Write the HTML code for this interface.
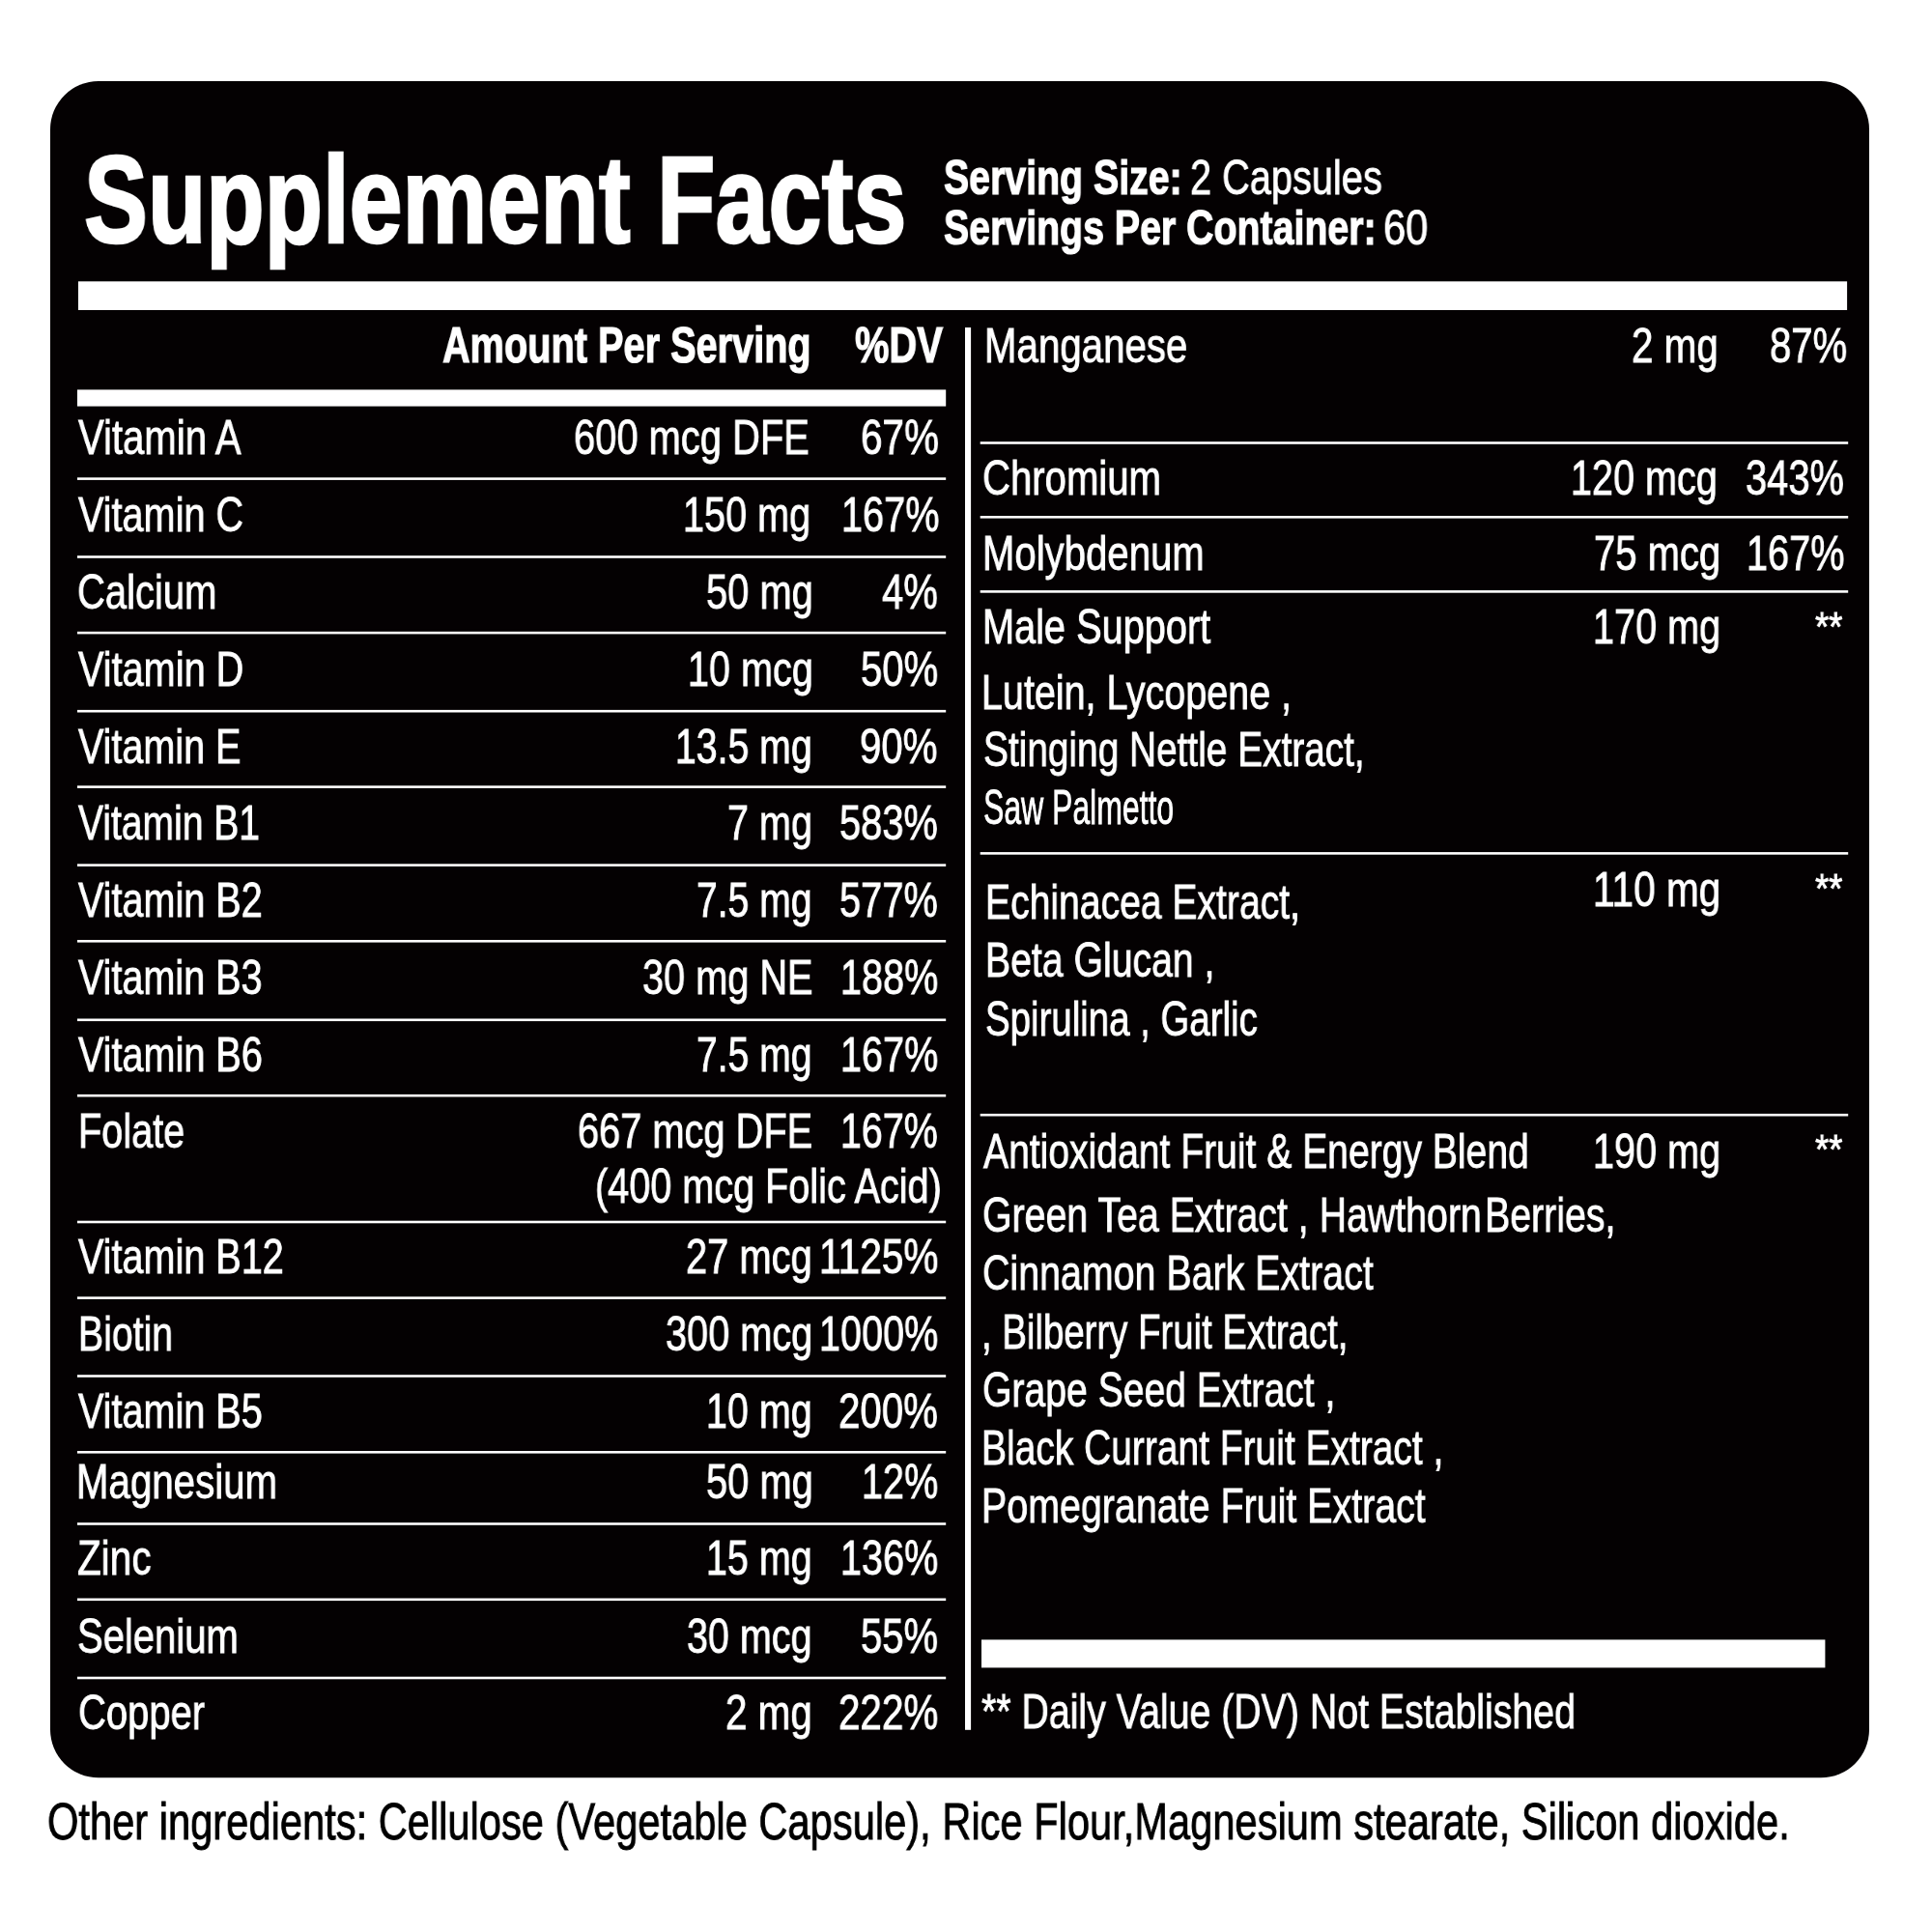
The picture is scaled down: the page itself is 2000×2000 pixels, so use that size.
<!DOCTYPE html>
<html><head><meta charset="utf-8"><style>
html,body{margin:0;padding:0;background:#fff;width:2000px;height:2000px;overflow:hidden}
body{position:relative;font-family:"Liberation Sans",sans-serif}
.bg{position:absolute;left:0;top:0}
.t{position:absolute;white-space:pre;line-height:normal;transform-origin:0 0;color:#fff;will-change:transform}

</style></head><body>

<svg class="bg" width="2000" height="2000" viewBox="0 0 2000 2000">
<rect x="52" y="84" width="1883" height="1756.3" rx="50" ry="50" fill="#040102"/>
<rect x="81" y="291.3" width="1831.1" height="29.7" fill="#fff"/>
<rect x="80" y="403.4" width="899.2" height="17.2" fill="#fff"/>
<rect x="999" y="339" width="6.1" height="1451.8" fill="#fff"/>
<rect x="1016" y="1697.4" width="873.4" height="29" fill="#fff"/>
<rect x="80" y="494.3" width="899.2" height="2.6" fill="#fff"/>
<rect x="80" y="575.2" width="899.2" height="2.6" fill="#fff"/>
<rect x="80" y="653.8" width="899.2" height="2.6" fill="#fff"/>
<rect x="80" y="734.9" width="899.2" height="2.6" fill="#fff"/>
<rect x="80" y="813.3" width="899.2" height="2.6" fill="#fff"/>
<rect x="80" y="894.3" width="899.2" height="2.6" fill="#fff"/>
<rect x="80" y="973" width="899.2" height="2.6" fill="#fff"/>
<rect x="80" y="1054.5" width="899.2" height="2.6" fill="#fff"/>
<rect x="80" y="1132.9" width="899.2" height="2.6" fill="#fff"/>
<rect x="80" y="1263.7" width="899.2" height="2.6" fill="#fff"/>
<rect x="80" y="1342.3" width="899.2" height="2.6" fill="#fff"/>
<rect x="80" y="1423.2" width="899.2" height="2.6" fill="#fff"/>
<rect x="80" y="1502" width="899.2" height="2.6" fill="#fff"/>
<rect x="80" y="1576.2" width="899.2" height="2.6" fill="#fff"/>
<rect x="80" y="1654.5" width="899.2" height="2.6" fill="#fff"/>
<rect x="80" y="1735.7" width="899.2" height="2.6" fill="#fff"/>
<rect x="1014.7" y="457.2" width="898.5" height="2.6" fill="#fff"/>
<rect x="1014.7" y="534" width="898.5" height="2.6" fill="#fff"/>
<rect x="1014.7" y="611.1" width="898.5" height="2.6" fill="#fff"/>
<rect x="1014.7" y="882.1" width="898.5" height="2.6" fill="#fff"/>
<rect x="1014.7" y="1152.9" width="898.5" height="2.6" fill="#fff"/>
</svg>
<div class="t" style="left:86.81px;top:132.75px;font-size:128px;transform:scaleX(0.7722);font-weight:700;-webkit-text-stroke-width:2.6px">Supplement Facts</div>
<div class="t" style="left:976.66px;top:154.51px;font-size:50px;transform:scaleX(0.7857);font-weight:700;-webkit-text-stroke-width:1.2px">Serving Size:</div>
<div class="t" style="left:1231.66px;top:154.51px;font-size:49.5px;transform:scaleX(0.8030);-webkit-text-stroke-width:0.9px">2 Capsules</div>
<div class="t" style="left:976.66px;top:206.71px;font-size:50px;transform:scaleX(0.7858);font-weight:700;-webkit-text-stroke-width:1.2px">Servings Per Container:</div>
<div class="t" style="left:1431.96px;top:206.71px;font-size:49.5px;transform:scaleX(0.8411);-webkit-text-stroke-width:0.9px">60</div>
<div class="t" style="left:458.42px;top:327.51px;font-size:51px;transform:scaleX(0.7785);font-weight:700;-webkit-text-stroke-width:1.2px">Amount Per Serving</div>
<div class="t" style="left:885.46px;top:327.51px;font-size:51px;transform:scaleX(0.7821);font-weight:700;-webkit-text-stroke-width:1.2px">%DV</div>
<div class="t" style="left:80.54px;top:423.11px;font-size:50.5px;transform:scaleX(0.7938);-webkit-text-stroke-width:0.9px">Vitamin A</div>
<div class="t" style="left:594.35px;top:423.11px;font-size:50.5px;transform:scaleX(0.7899);-webkit-text-stroke-width:0.9px">600 mcg DFE</div>
<div class="t" style="left:891.33px;top:423.11px;font-size:50.5px;transform:scaleX(0.8013);-webkit-text-stroke-width:0.9px">67%</div>
<div class="t" style="left:80.54px;top:502.51px;font-size:50.5px;transform:scaleX(0.7847);-webkit-text-stroke-width:0.9px">Vitamin C</div>
<div class="t" style="left:707.38px;top:502.51px;font-size:50.5px;transform:scaleX(0.7850);-webkit-text-stroke-width:0.9px">150 mg</div>
<div class="t" style="left:870.87px;top:502.51px;font-size:50.5px;transform:scaleX(0.7857);-webkit-text-stroke-width:0.9px">167%</div>
<div class="t" style="left:80.43px;top:582.51px;font-size:50.5px;transform:scaleX(0.7918);-webkit-text-stroke-width:0.9px">Calcium</div>
<div class="t" style="left:730.69px;top:582.51px;font-size:50.5px;transform:scaleX(0.7899);-webkit-text-stroke-width:0.9px">50 mg</div>
<div class="t" style="left:913.04px;top:582.51px;font-size:50.5px;transform:scaleX(0.7937);-webkit-text-stroke-width:0.9px">4%</div>
<div class="t" style="left:80.54px;top:662.51px;font-size:50.5px;transform:scaleX(0.7857);-webkit-text-stroke-width:0.9px">Vitamin D</div>
<div class="t" style="left:711.68px;top:662.51px;font-size:50.5px;transform:scaleX(0.7839);-webkit-text-stroke-width:0.9px">10 mcg</div>
<div class="t" style="left:890.68px;top:662.51px;font-size:50.5px;transform:scaleX(0.7927);-webkit-text-stroke-width:0.9px">50%</div>
<div class="t" style="left:80.54px;top:742.51px;font-size:50.5px;transform:scaleX(0.7826);-webkit-text-stroke-width:0.9px">Vitamin E</div>
<div class="t" style="left:699.41px;top:742.51px;font-size:50.5px;transform:scaleX(0.7764);-webkit-text-stroke-width:0.9px">13.5 mg</div>
<div class="t" style="left:890.44px;top:742.51px;font-size:50.5px;transform:scaleX(0.7951);-webkit-text-stroke-width:0.9px">90%</div>
<div class="t" style="left:80.53px;top:822.21px;font-size:50.5px;transform:scaleX(0.7727);-webkit-text-stroke-width:0.9px">Vitamin B1</div>
<div class="t" style="left:752.76px;top:822.21px;font-size:50.5px;transform:scaleX(0.7840);-webkit-text-stroke-width:0.9px">7 mg</div>
<div class="t" style="left:869.09px;top:822.21px;font-size:50.5px;transform:scaleX(0.7880);-webkit-text-stroke-width:0.9px">583%</div>
<div class="t" style="left:80.54px;top:902.01px;font-size:50.5px;transform:scaleX(0.7837);-webkit-text-stroke-width:0.9px">Vitamin B2</div>
<div class="t" style="left:721.28px;top:902.01px;font-size:50.5px;transform:scaleX(0.7744);-webkit-text-stroke-width:0.9px">7.5 mg</div>
<div class="t" style="left:869.09px;top:902.01px;font-size:50.5px;transform:scaleX(0.7880);-webkit-text-stroke-width:0.9px">577%</div>
<div class="t" style="left:80.54px;top:981.71px;font-size:50.5px;transform:scaleX(0.7828);-webkit-text-stroke-width:0.9px">Vitamin B3</div>
<div class="t" style="left:664.75px;top:981.71px;font-size:50.5px;transform:scaleX(0.7862);-webkit-text-stroke-width:0.9px">30 mg NE</div>
<div class="t" style="left:869.58px;top:981.71px;font-size:50.5px;transform:scaleX(0.7841);-webkit-text-stroke-width:0.9px">188%</div>
<div class="t" style="left:80.54px;top:1061.51px;font-size:50.5px;transform:scaleX(0.7843);-webkit-text-stroke-width:0.9px">Vitamin B6</div>
<div class="t" style="left:721.28px;top:1061.51px;font-size:50.5px;transform:scaleX(0.7744);-webkit-text-stroke-width:0.9px">7.5 mg</div>
<div class="t" style="left:869.58px;top:1061.51px;font-size:50.5px;transform:scaleX(0.7841);-webkit-text-stroke-width:0.9px">167%</div>
<div class="t" style="left:80.60px;top:1140.91px;font-size:50.5px;transform:scaleX(0.7853);-webkit-text-stroke-width:0.9px">Folate</div>
<div class="t" style="left:597.55px;top:1140.91px;font-size:50.5px;transform:scaleX(0.7876);-webkit-text-stroke-width:0.9px">667 mcg DFE</div>
<div class="t" style="left:869.59px;top:1140.91px;font-size:50.5px;transform:scaleX(0.7801);-webkit-text-stroke-width:0.9px">167%</div>
<div class="t" style="left:80.54px;top:1271.11px;font-size:50.5px;transform:scaleX(0.7839);-webkit-text-stroke-width:0.9px">Vitamin B12</div>
<div class="t" style="left:710.07px;top:1271.11px;font-size:50.5px;transform:scaleX(0.7895);-webkit-text-stroke-width:0.9px">27 mcg</div>
<div class="t" style="left:847.51px;top:1271.11px;font-size:50.5px;transform:scaleX(0.8048);-webkit-text-stroke-width:0.9px">1125%</div>
<div class="t" style="left:80.64px;top:1350.51px;font-size:50.5px;transform:scaleX(0.7760);-webkit-text-stroke-width:0.9px">Biotin</div>
<div class="t" style="left:688.55px;top:1350.51px;font-size:50.5px;transform:scaleX(0.7864);-webkit-text-stroke-width:0.9px">300 mcg</div>
<div class="t" style="left:847.58px;top:1350.51px;font-size:50.5px;transform:scaleX(0.7844);-webkit-text-stroke-width:0.9px">1000%</div>
<div class="t" style="left:80.54px;top:1430.51px;font-size:50.5px;transform:scaleX(0.7839);-webkit-text-stroke-width:0.9px">Vitamin B5</div>
<div class="t" style="left:731.09px;top:1430.51px;font-size:50.5px;transform:scaleX(0.7819);-webkit-text-stroke-width:0.9px">10 mg</div>
<div class="t" style="left:867.96px;top:1430.51px;font-size:50.5px;transform:scaleX(0.7968);-webkit-text-stroke-width:0.9px">200%</div>
<div class="t" style="left:79.26px;top:1504.01px;font-size:50.5px;transform:scaleX(0.7969);-webkit-text-stroke-width:0.9px">Magnesium</div>
<div class="t" style="left:730.69px;top:1504.01px;font-size:50.5px;transform:scaleX(0.7899);-webkit-text-stroke-width:0.9px">50 mg</div>
<div class="t" style="left:891.58px;top:1504.01px;font-size:50.5px;transform:scaleX(0.7837);-webkit-text-stroke-width:0.9px">12%</div>
<div class="t" style="left:80.01px;top:1582.81px;font-size:50.5px;transform:scaleX(0.8022);-webkit-text-stroke-width:0.9px">Zinc</div>
<div class="t" style="left:731.09px;top:1582.81px;font-size:50.5px;transform:scaleX(0.7819);-webkit-text-stroke-width:0.9px">15 mg</div>
<div class="t" style="left:869.58px;top:1582.81px;font-size:50.5px;transform:scaleX(0.7841);-webkit-text-stroke-width:0.9px">136%</div>
<div class="t" style="left:80.47px;top:1663.51px;font-size:50.5px;transform:scaleX(0.7920);-webkit-text-stroke-width:0.9px">Selenium</div>
<div class="t" style="left:711.25px;top:1663.51px;font-size:50.5px;transform:scaleX(0.7822);-webkit-text-stroke-width:0.9px">30 mcg</div>
<div class="t" style="left:890.78px;top:1663.51px;font-size:50.5px;transform:scaleX(0.7917);-webkit-text-stroke-width:0.9px">55%</div>
<div class="t" style="left:80.63px;top:1742.51px;font-size:50.5px;transform:scaleX(0.7916);-webkit-text-stroke-width:0.9px">Copper</div>
<div class="t" style="left:751.45px;top:1742.51px;font-size:50.5px;transform:scaleX(0.7995);-webkit-text-stroke-width:0.9px">2 mg</div>
<div class="t" style="left:867.65px;top:1742.51px;font-size:50.5px;transform:scaleX(0.8000);-webkit-text-stroke-width:0.9px">222%</div>
<div class="t" style="left:615.67px;top:1197.61px;font-size:50.5px;transform:scaleX(0.7842);-webkit-text-stroke-width:0.9px">(400 mcg Folic Acid)</div>
<div class="t" style="left:1018.86px;top:327.51px;font-size:50.5px;transform:scaleX(0.7969);-webkit-text-stroke-width:0.9px">Manganese</div>
<div class="t" style="left:1689.05px;top:327.51px;font-size:50.5px;transform:scaleX(0.7995);-webkit-text-stroke-width:0.9px">2 mg</div>
<div class="t" style="left:1831.59px;top:327.51px;font-size:50.5px;transform:scaleX(0.7926);-webkit-text-stroke-width:0.9px">87%</div>
<div class="t" style="left:1017.33px;top:465.31px;font-size:50.5px;transform:scaleX(0.7944);-webkit-text-stroke-width:0.9px">Chromium</div>
<div class="t" style="left:1625.98px;top:465.31px;font-size:50.5px;transform:scaleX(0.7842);-webkit-text-stroke-width:0.9px">120 mcg</div>
<div class="t" style="left:1807.14px;top:465.31px;font-size:50.5px;transform:scaleX(0.7891);-webkit-text-stroke-width:0.9px">343%</div>
<div class="t" style="left:1016.57px;top:542.91px;font-size:50.5px;transform:scaleX(0.7947);-webkit-text-stroke-width:0.9px">Molybdenum</div>
<div class="t" style="left:1650.24px;top:542.91px;font-size:50.5px;transform:scaleX(0.7921);-webkit-text-stroke-width:0.9px">75 mcg</div>
<div class="t" style="left:1807.57px;top:542.91px;font-size:50.5px;transform:scaleX(0.7857);-webkit-text-stroke-width:0.9px">167%</div>
<div class="t" style="left:1016.60px;top:619.31px;font-size:50.5px;transform:scaleX(0.7861);-webkit-text-stroke-width:0.9px">Male Support</div>
<div class="t" style="left:1649.28px;top:619.31px;font-size:50.5px;transform:scaleX(0.7850);-webkit-text-stroke-width:0.9px">170 mg</div>
<div class="t" style="left:1879.38px;top:624.19px;font-size:43px;transform:scaleX(0.8471);-webkit-text-stroke-width:0.9px">**</div>
<div class="t" style="left:1016.12px;top:686.51px;font-size:50.5px;transform:scaleX(0.7815);-webkit-text-stroke-width:0.9px">Lutein, Lycopene ,</div>
<div class="t" style="left:1017.51px;top:746.11px;font-size:50.5px;transform:scaleX(0.7685);-webkit-text-stroke-width:0.9px">Stinging Nettle Extract,</div>
<div class="t" style="left:1017.78px;top:806.31px;font-size:50.5px;transform:scaleX(0.6328);-webkit-text-stroke-width:0.9px">Saw Palmetto</div>
<div class="t" style="left:1019.74px;top:903.81px;font-size:50.5px;transform:scaleX(0.7741);-webkit-text-stroke-width:0.9px">Echinacea Extract,</div>
<div class="t" style="left:1649.22px;top:890.71px;font-size:50.5px;transform:scaleX(0.8033);-webkit-text-stroke-width:0.9px">110 mg</div>
<div class="t" style="left:1879.38px;top:894.99px;font-size:43px;transform:scaleX(0.8471);-webkit-text-stroke-width:0.9px">**</div>
<div class="t" style="left:1019.74px;top:964.11px;font-size:50.5px;transform:scaleX(0.7759);-webkit-text-stroke-width:0.9px">Beta Glucan ,</div>
<div class="t" style="left:1019.53px;top:1024.51px;font-size:50.5px;transform:scaleX(0.7607);-webkit-text-stroke-width:0.9px">Spirulina , Garlic</div>
<div class="t" style="left:1018.19px;top:1162.11px;font-size:50.5px;transform:scaleX(0.7738);-webkit-text-stroke-width:0.9px">Antioxidant Fruit &amp; Energy Blend</div>
<div class="t" style="left:1649.28px;top:1161.91px;font-size:50.5px;transform:scaleX(0.7850);-webkit-text-stroke-width:0.9px">190 mg</div>
<div class="t" style="left:1879.38px;top:1164.89px;font-size:43px;transform:scaleX(0.8471);-webkit-text-stroke-width:0.9px">**</div>
<div class="t" style="left:1017.38px;top:1228.21px;font-size:50.5px;transform:scaleX(0.7779);-webkit-text-stroke-width:0.9px">Green Tea Extract , Hawthorn Berries,</div>
<div class="t" style="left:1017.36px;top:1288.31px;font-size:50.5px;transform:scaleX(0.7795);-webkit-text-stroke-width:0.9px">Cinnamon Bark Extract</div>
<div class="t" style="left:1016.02px;top:1348.51px;font-size:50.5px;transform:scaleX(0.7597);-webkit-text-stroke-width:0.9px">, Bilberry Fruit Extract,</div>
<div class="t" style="left:1017.39px;top:1408.51px;font-size:50.5px;transform:scaleX(0.7747);-webkit-text-stroke-width:0.9px">Grape Seed Extract ,</div>
<div class="t" style="left:1016.15px;top:1468.81px;font-size:50.5px;transform:scaleX(0.7713);-webkit-text-stroke-width:0.9px">Black Currant Fruit Extract ,</div>
<div class="t" style="left:1016.12px;top:1528.81px;font-size:50.5px;transform:scaleX(0.7801);-webkit-text-stroke-width:0.9px">Pomegranate Fruit Extract</div>
<div class="t" style="left:1015.65px;top:1743.11px;font-size:49.5px;transform:scaleX(0.7936);-webkit-text-stroke-width:0.9px">** Daily Value (DV) Not Established</div>
<div class="t" style="left:48.58px;top:1853.71px;font-size:54px;transform:scaleX(0.7714);color:#000;-webkit-text-stroke-width:0.9px">Other ingredients: Cellulose (Vegetable Capsule), Rice Flour,Magnesium stearate, Silicon dioxide.</div>
</body></html>
